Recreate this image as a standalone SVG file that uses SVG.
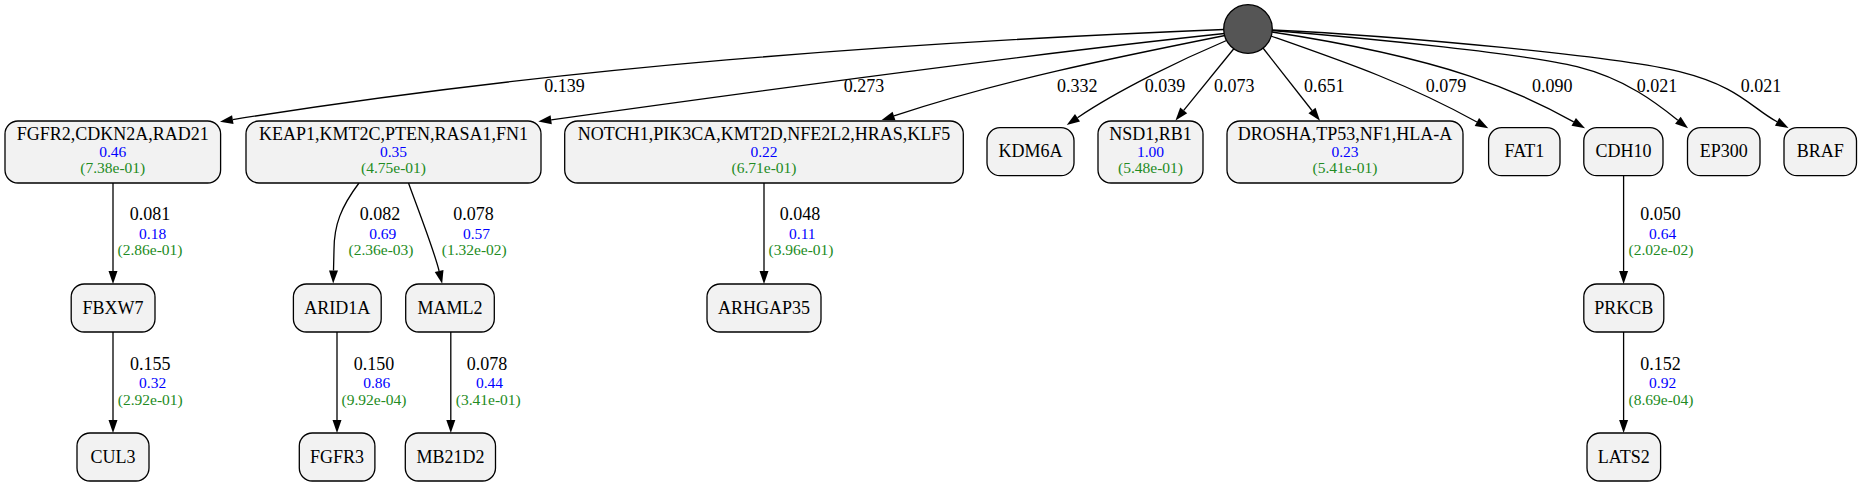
<svg xmlns="http://www.w3.org/2000/svg" width="1861" height="487" viewBox="0 0 1861 487">
<style>
.n{fill:#f2f2f2;stroke:#000;stroke-width:1.3}
.t{font-family:"Liberation Serif","Times New Roman",serif;font-size:18px;fill:#000;text-anchor:middle}
.b{font-family:"Liberation Serif","Times New Roman",serif;font-size:15.5px;fill:#0000ff;text-anchor:middle}
.g{font-family:"Liberation Serif","Times New Roman",serif;font-size:15.5px;fill:#228b22;text-anchor:middle}
.e{fill:none;stroke:#000;stroke-width:1.3;marker-end:url(#ah)}
</style>
<defs>
<marker id="ah" markerUnits="userSpaceOnUse" markerWidth="13" markerHeight="9" viewBox="0 0 13 9" refX="0" refY="4.5" orient="auto" overflow="visible">
<path d="M0,0 L13,4.5 L0,9 z" fill="#000"/>
</marker>
</defs>
<rect width="1861" height="487" fill="#fff"/>
<g id="edges">
<path class="e" d="M1224,29.5 C894,42.7 558.5,67.5 232.8,119.6"/>
<path class="e" d="M1224.5,33.5 C1050,52 750,92 551.2,119.8"/>
<path class="e" d="M1225,35.5 C1115,57.5 998.4,81.1 894,115.9"/>
<path class="e" d="M1226.5,40.5 C1180.5,60 1118.9,89.7 1077.5,117.7"/>
<path class="e" d="M1234,48.5 L1183.7,110.4"/>
<path class="e" d="M1263,48 L1312,110.5"/>
<path class="e" d="M1271,36 C1346.2,62.4 1406.9,83.3 1476.9,122"/>
<path class="e" d="M1272,32 C1449.3,59 1521.4,92.4 1573.7,121.9"/>
<path class="e" d="M1272,30.5 C1372,38.5 1527,54.2 1577,66.7 S1658.5,104.7 1677.9,120.2"/>
<path class="e" d="M1272,30 C1402,36 1619.5,56.7 1679.5,71.7 S1750.7,107.5 1777.1,121.8"/>
<path class="e" d="M113,183 L113,271"/>
<path class="e" d="M113,332 L113,420"/>
<path class="e" d="M359,183 C341,207 334,225 334,250 L333.5,270.5"/>
<path class="e" d="M408.5,183 C416,204 434,250 439.1,271"/>
<path class="e" d="M337,332 L337,420"/>
<path class="e" d="M450.8,332 L450.8,420"/>
<path class="e" d="M764,183 L764,271"/>
<path class="e" d="M1623.6,175.7 L1623.6,271"/>
<path class="e" d="M1623.6,332 L1623.6,420"/>
<text class="t" x="564.5" y="92">0.139</text>
<text class="t" x="864" y="92">0.273</text>
<text class="t" x="1077.3" y="92">0.332</text>
<text class="t" x="1165" y="92">0.039</text>
<text class="t" x="1234.3" y="92">0.073</text>
<text class="t" x="1324.3" y="92">0.651</text>
<text class="t" x="1446" y="92">0.079</text>
<text class="t" x="1552.3" y="92">0.090</text>
<text class="t" x="1657" y="92">0.021</text>
<text class="t" x="1761" y="92">0.021</text>
<text class="t" x="150" y="219.5">0.081</text><text class="b" x="152.6" y="238.5">0.18</text><text class="g" x="150" y="254.5">(2.86e-01)</text>
<text class="t" x="150.3" y="369.5">0.155</text><text class="b" x="152.6" y="387.5">0.32</text><text class="g" x="150.3" y="404.5">(2.92e-01)</text>
<text class="t" x="380" y="219.5">0.082</text><text class="b" x="382.7" y="238.5">0.69</text><text class="g" x="381" y="254.5">(2.36e-03)</text>
<text class="t" x="473.5" y="219.5">0.078</text><text class="b" x="476.5" y="238.5">0.57</text><text class="g" x="474.3" y="254.5">(1.32e-02)</text>
<text class="t" x="374" y="369.5">0.150</text><text class="b" x="376.8" y="387.5">0.86</text><text class="g" x="374" y="404.5">(9.92e-04)</text>
<text class="t" x="487.1" y="369.5">0.078</text><text class="b" x="489.5" y="387.5">0.44</text><text class="g" x="488.3" y="404.5">(3.41e-01)</text>
<text class="t" x="800" y="219.5">0.048</text><text class="b" x="802.3" y="238.5">0.11</text><text class="g" x="801" y="254.5">(3.96e-01)</text>
<text class="t" x="1660.6" y="219.5">0.050</text><text class="b" x="1662.6" y="238.5">0.64</text><text class="g" x="1661" y="254.5">(2.02e-02)</text>
<text class="t" x="1660.6" y="369.5">0.152</text><text class="b" x="1662.6" y="387.5">0.92</text><text class="g" x="1661" y="404.5">(8.69e-04)</text>
</g>
<g id="root"><circle cx="1248" cy="29" r="24.3" fill="#555555" stroke="#000" stroke-width="1.3"/></g>
<g id="n_fgfr2"><rect class="n" x="5" y="121" width="215.6" height="62" rx="13"/><text class="t" x="112.8" y="140">FGFR2,CDKN2A,RAD21</text><text class="b" x="112.8" y="157">0.46</text><text class="g" x="112.8" y="172.5">(7.38e-01)</text></g>
<g id="n_keap1"><rect class="n" x="246" y="121" width="295" height="62" rx="13"/><text class="t" x="393.5" y="140">KEAP1,KMT2C,PTEN,RASA1,FN1</text><text class="b" x="393.5" y="157">0.35</text><text class="g" x="393.5" y="172.5">(4.75e-01)</text></g>
<g id="n_notch1"><rect class="n" x="564.7" y="121" width="398.6" height="62" rx="13"/><text class="t" x="764" y="140">NOTCH1,PIK3CA,KMT2D,NFE2L2,HRAS,KLF5</text><text class="b" x="764" y="157">0.22</text><text class="g" x="764" y="172.5">(6.71e-01)</text></g>
<g id="n_kdm6a"><rect class="n" x="987" y="127.7" width="87" height="48" rx="13"/><text class="t" x="1030.5" y="157.3">KDM6A</text></g>
<g id="n_nsd1"><rect class="n" x="1098" y="121" width="105" height="62" rx="13"/><text class="t" x="1150.5" y="140">NSD1,RB1</text><text class="b" x="1150.5" y="157">1.00</text><text class="g" x="1150.5" y="172.5">(5.48e-01)</text></g>
<g id="n_drosha"><rect class="n" x="1227" y="121" width="236" height="62" rx="13"/><text class="t" x="1345" y="140">DROSHA,TP53,NF1,HLA-A</text><text class="b" x="1345" y="157">0.23</text><text class="g" x="1345" y="172.5">(5.41e-01)</text></g>
<g id="n_fat1"><rect class="n" x="1488.6" y="127.7" width="71.4" height="48" rx="13"/><text class="t" x="1524.3" y="157.3">FAT1</text></g>
<g id="n_cdh10"><rect class="n" x="1583.8" y="127.7" width="79.2" height="48" rx="13"/><text class="t" x="1623.4" y="157.3">CDH10</text></g>
<g id="n_ep300"><rect class="n" x="1687.5" y="127.7" width="72.5" height="48" rx="13"/><text class="t" x="1723.7" y="157.3">EP300</text></g>
<g id="n_braf"><rect class="n" x="1784" y="127.7" width="72.5" height="48" rx="13"/><text class="t" x="1820.2" y="157.3">BRAF</text></g>
<g id="n_fbxw7"><rect class="n" x="71.2" y="284" width="83.8" height="48" rx="13"/><text class="t" x="113.1" y="313.5">FBXW7</text></g>
<g id="n_arid1a"><rect class="n" x="293.4" y="284" width="87.8" height="48" rx="13"/><text class="t" x="337.3" y="313.5">ARID1A</text></g>
<g id="n_maml2"><rect class="n" x="405.7" y="284" width="88.6" height="48" rx="13"/><text class="t" x="450" y="313.5">MAML2</text></g>
<g id="n_arhgap35"><rect class="n" x="707" y="284" width="114" height="48" rx="13"/><text class="t" x="764" y="313.5">ARHGAP35</text></g>
<g id="n_prkcb"><rect class="n" x="1583.8" y="284" width="80" height="48" rx="13"/><text class="t" x="1623.8" y="313.5">PRKCB</text></g>
<g id="n_cul3"><rect class="n" x="77" y="433" width="72" height="48" rx="13"/><text class="t" x="113" y="462.5">CUL3</text></g>
<g id="n_fgfr3"><rect class="n" x="299.3" y="433" width="75.6" height="48" rx="13"/><text class="t" x="337.1" y="462.5">FGFR3</text></g>
<g id="n_mb21d2"><rect class="n" x="405.3" y="433" width="90.2" height="48" rx="13"/><text class="t" x="450.4" y="462.5">MB21D2</text></g>
<g id="n_lats2"><rect class="n" x="1587" y="433" width="73.6" height="48" rx="13"/><text class="t" x="1623.8" y="462.5">LATS2</text></g>
</svg>
